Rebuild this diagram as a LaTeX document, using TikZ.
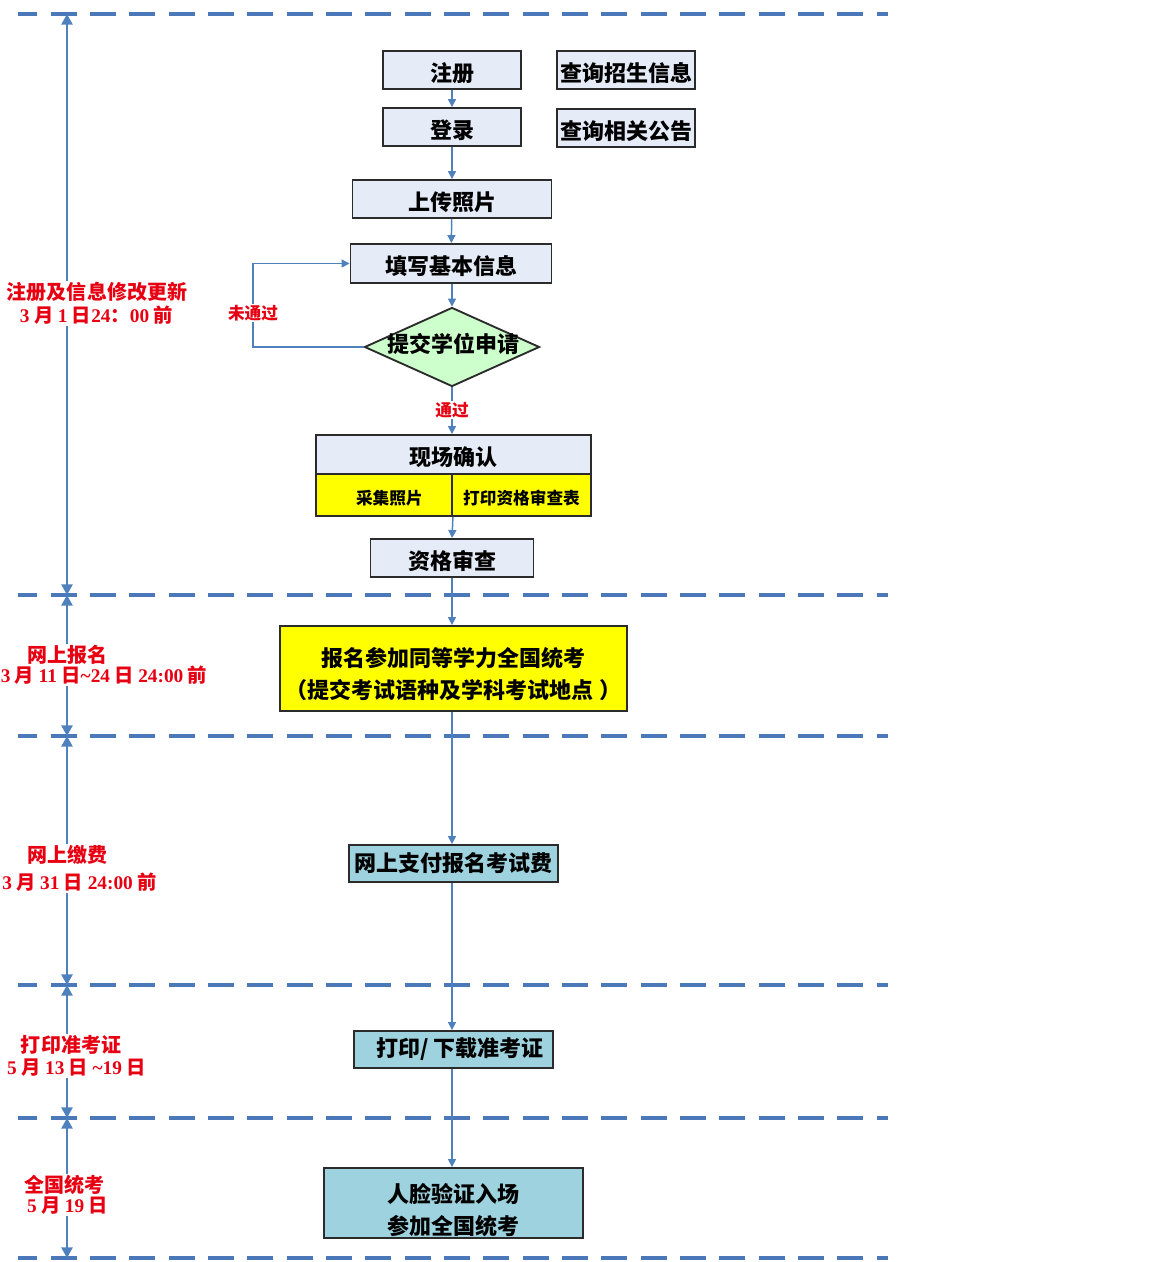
\documentclass[tikz,border=0pt]{standalone}
\usepackage{fontspec}
\setmainfont{Noto Sans CJK SC}
\newfontfamily\sr{Liberation Serif}
\usetikzlibrary{shapes.geometric,arrows.meta}
\definecolor{lineblue}{HTML}{4F81BD}
\definecolor{dashblue}{HTML}{4A78B8}
\definecolor{lightbox}{HTML}{E6ECF7}
\definecolor{tealbox}{HTML}{9DD2DE}
\definecolor{greenbox}{HTML}{CCFFCC}
\definecolor{yelbox}{HTML}{FFFF00}
\definecolor{labred}{HTML}{E60012}
\definecolor{boxline}{HTML}{2B2B2B}
\begin{document}
\begin{tikzpicture}[x=0.75pt,y=-0.75pt,
  bigfont/.style={font=\bfseries\fontsize{16.5}{24}\selectfont},
  box/.style={draw=boxline, line width=1.4pt, inner sep=0pt, bigfont, align=center},
  low/.style={text height=18.2pt, text depth=1pt},
  lbox/.style={box, low, fill=lightbox},
  tbox/.style={box, fill=tealbox},
  ybox/.style={box, fill=yelbox},
  smallt/.style={font=\bfseries\fontsize{12.5}{14}\selectfont, text height=15.1pt, text depth=1pt},
  mlabel/.style={bigfont, align=center, inner sep=0pt},
  flow/.style={draw=lineblue, line width=1.1pt, -{Triangle[length=6pt,width=6pt]}},
  sepline/.style={draw=dashblue, line width=3pt, dash pattern=on 19.5pt off 10pt, dash phase=5pt},
  tl/.style={draw=lineblue, line width=1.1pt, -{Triangle[length=8pt,width=8.5pt]}},
  rtitle/.style={text=labred, inner sep=1pt, font=\bfseries\fontsize{15}{16}\selectfont},
  rdate/.style={text=labred, inner sep=1pt, font=\bfseries\fontsize{14.5}{15}\selectfont},
  decision/.style={text=labred, fill=white, inner sep=1pt, font=\bfseries\fontsize{12.5}{14}\selectfont}
]
\useasboundingbox (0,0) rectangle (1172,1262);

% separator lines
\foreach \yy/\nm in {14/0,595/1,736/2,985/3,1118/4,1258/5}{
  \coordinate (ls\nm) at (18,\yy);
  \coordinate (le\nm) at (888,\yy);
  \coordinate (v\nm) at (67,\yy);
  \draw[sepline] (ls\nm) -- (le\nm);
}

% time labels
\node[rtitle] (t1) at (97,292) {注册及信息修改更新};
\node[rdate] (d1) at (96.5,315) {{\sr 3} 月 {\sr 1} 日{\sr 24}：{\sr 00} 前};
\node[rtitle] (t2) at (67,655) {网上报名};
\node[rdate] (d2) at (104,675) {{\sr 3} 月 {\sr 11} 日{\sr \textasciitilde 24} 日 {\sr 24:00} 前};
\node[rtitle] (t3) at (67,855) {网上缴费};
\node[rdate] (d3) at (79.5,882) {{\sr 3} 月 {\sr 31} 日 {\sr 24:00} 前};
\node[rtitle] (t4) at (71,1045) {打印准考证};
\node[rdate] (d4) at (76.5,1068) {{\sr 5} 月 {\sr 13} 日 {\sr \textasciitilde 19} 日};
\node[rtitle] (t5) at (64,1185) {全国统考};
\node[rdate] (d5) at (67.5,1206) {{\sr 5} 月 {\sr 19} 日};

\draw[tl] (t1.north -| v0) -- (v0);
\draw[tl] (d1.south -| v0) -- (v1);
\draw[tl] (t2.north -| v0) -- (v1);
\draw[tl] (d2.south -| v0) -- (v2);
\draw[tl] (t3.north -| v0) -- (v2);
\draw[tl] (d3.south -| v0) -- (v3);
\draw[tl] (t4.north -| v0) -- (v3);
\draw[tl] (d4.south -| v0) -- (v4);
\draw[tl] (t5.north -| v0) -- (v4);
\draw[tl] (d5.south -| v0) -- (v5);

% flow nodes
\node[lbox, minimum width=103.5pt, minimum height=28.5pt] (reg) at (452,70) {注册};
\node[lbox, minimum width=103.5pt, minimum height=28.5pt] (login) at (452,127) {登录};
\node[lbox, minimum width=103.5pt, minimum height=28.5pt] (q1) at (626,70) {查询招生信息};
\node[lbox, minimum width=103.5pt, minimum height=28.5pt] (q2) at (626,128) {查询相关公告};
\node[lbox, minimum width=149.25pt, minimum height=28.5pt] (upload) at (452,199) {上传照片};
\node[lbox, minimum width=150.75pt, minimum height=29.25pt] (fillin) at (451,263.5) {填写基本信息};
\node[draw=boxline, line width=1.4pt, fill=greenbox, diamond, aspect=2.2, inner sep=0pt,
      minimum width=131.25pt, minimum height=59.25pt] (dia) at (452,347) {};
\node[font=\bfseries\fontsize{16.5}{18}\selectfont, inner sep=0pt] (dialab) at (453,344) {提交学位申请};

\node[lbox, minimum width=206.25pt, minimum height=29.25pt] (conf) at (453.5,454.5) {现场确认};
\node[ybox, smallt, minimum width=102pt, minimum height=31.5pt] (c1) at (384,495) {\hspace*{8pt}采集照片};
\node[ybox, smallt, minimum width=104.25pt, minimum height=31.5pt] (c2) at (521.5,495) {打印资格审查表};
\node[lbox, minimum width=122.25pt, minimum height=28.5pt] (check) at (452,558) {资格审查};
\node[ybox, minimum width=260.25pt, minimum height=63.75pt,
      label={[mlabel, yshift=-4.1pt]center:{报名参加同等学力全国统考\\（提交考试语种及学科考试地点 ）}}] (apply) at (453.5,668.5) {};
\node[tbox, minimum width=156.75pt, minimum height=27.75pt] (pay) at (453.5,863.5) {网上支付报名考试费};
\node[tbox, minimum width=149.25pt, minimum height=27.75pt] (print) at (453.5,1049.5) {\hspace*{10pt}打印/ 下载准考证};
\node[tbox, minimum width=194.25pt, minimum height=52.5pt,
      label={[mlabel, yshift=-5.3pt]center:{人脸验证入场\\参加全国统考}}] (exam) at (453.5,1203) {};

% connectors
\draw[flow] (reg) -- (login);
\draw[flow] (login) -- (upload);
\draw[flow] (upload) -- (fillin);
\draw[flow] (fillin.south -| dia) -- (dia.north);
\draw[flow] (dia.south) -- (dia.south |- conf.north);
\node[decision] (pass) at (452,410) {通过};
\coordinate (lp) at (253,347);
\draw[flow] (dia.west) -- (lp) |- (fillin.west);
\node[decision] (fail) at (253,313) {未通过};
\draw[flow] (c1.south east) -- (check.north);
\draw[flow] (check) -- (check |- apply.north);
\draw[flow] (check |- apply.south) -- (check |- pay.north);
\draw[flow] (check |- pay.south) -- (check |- print.north);
\draw[flow] (check |- print.south) -- (check |- exam.north);
\end{tikzpicture}
\end{document}
